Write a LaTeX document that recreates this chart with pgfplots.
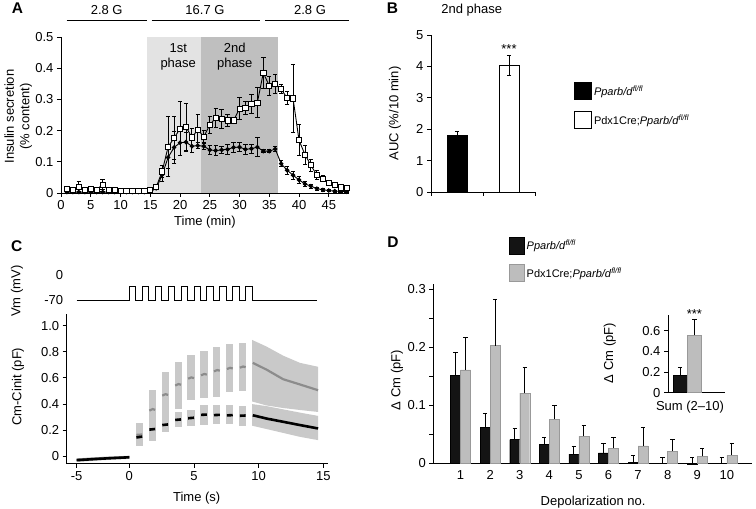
\documentclass[border=0pt]{standalone}
\usepackage{fontspec}
\setmainfont{Liberation Sans}
\usepackage{pgfplots}
\usepackage{pgfplotstable}
\pgfplotsset{compat=1.18}
\definecolor{shadeL}{gray}{0.89}
\definecolor{shadeD}{gray}{0.75}
\definecolor{bandc}{gray}{0.79}
\definecolor{meang}{gray}{0.55}
\definecolor{barg}{gray}{0.74}

\pgfplotsset{
 panel/.style={scale only axis, anchor=south west, axis lines=left, axis line style={-, line width=0.9pt},
   tick align=outside, tick style={black, line width=0.9pt}, major tick length=4pt, minor tick length=4pt,
   /pgf/number format/assume math mode=true, clip=false, font=\fontsize{13}{15.5}\selectfont},
 ebar/.style={/pgfplots/error bars/y dir=#1, /pgfplots/error bars/y explicit,
   /pgfplots/error bars/error bar style={line width=0.9pt, black, solid},
   /pgfplots/error bars/error mark options={rotate=90, mark size=2.2pt, line width=0.9pt, black, solid}},
 ctrafo/.style={x coord trafo/.code={\pgfmathparse{(##1<0)*0.8137*(##1)+(##1>=0)*(##1)}},
   x coord inv trafo/.code={\pgfmathparse{(##1<0)*(##1)/0.8137+(##1>=0)*(##1)}}},
}

% Panel A data: time (min), mean, error
\pgfplotstableread{
t y e
1 0.003 0.002
2 0.003 0.002
3 0.003 0.002
4 0.003 0.003
5 0.003 0.002
6 0.003 0.002
7 0.003 0.003
8 0.003 0.002
9 0.003 0.002
10 0.003 0.002
11 0.003 0.002
12 0.003 0.002
13 0.003 0.002
14 0.003 0.002
15 0.004 0.002
16 0.015 0.004
17 0.058 0.020
18 0.114 0.035
19 0.146 0.050
20 0.161 0.040
21 0.163 0.030
22 0.150 0.020
23 0.152 0.010
24 0.150 0.012
25 0.138 0.015
26 0.136 0.015
27 0.138 0.012
28 0.140 0.015
29 0.146 0.015
30 0.147 0.015
31 0.140 0.015
32 0.142 0.015
33 0.147 0.030
34 0.134 0.005
35 0.134 0.005
36 0.141 0.008
37 0.094 0.010
38 0.073 0.012
39 0.057 0.012
40 0.042 0.010
41 0.029 0.008
42 0.022 0.006
43 0.014 0.005
44 0.010 0.004
45 0.008 0.003
46 0.006 0.003
47 0.005 0.002
48 0.004 0.002
}\tableAci
\pgfplotstableread{
t y e
1 0.014 0.004
2 0.011 0.004
3 0.019 0.018
4 0.011 0.004
5 0.013 0.004
6 0.011 0.005
7 0.027 0.016
8 0.011 0.004
9 0.009 0.003
10 0.007 0.003
11 0.006 0.003
12 0.006 0.002
13 0.006 0.002
14 0.007 0.002
15 0.009 0.003
16 0.019 0.005
17 0.069 0.020
18 0.148 0.096
19 0.176 0.070
20 0.206 0.086
21 0.212 0.076
22 0.178 0.030
23 0.203 0.050
24 0.180 0.020
25 0.219 0.027
26 0.240 0.030
27 0.238 0.030
28 0.233 0.020
29 0.233 0.010
30 0.270 0.035
31 0.272 0.020
32 0.285 0.030
33 0.290 0.047
34 0.385 0.050
35 0.344 0.030
36 0.350 0.030
37 0.333 0.015
38 0.304 0.020
39 0.303 0.110
40 0.169 0.050
41 0.123 0.030
42 0.089 0.020
43 0.057 0.015
44 0.046 0.010
45 0.032 0.006
46 0.025 0.005
47 0.018 0.005
48 0.016 0.004
}\tableAsq
% Panel D data
\pgfplotstableread{
x b be g ge
1 0.152 0.039 0.161 0.056
2 0.062 0.024 0.203 0.079
3 0.041 0.019 0.121 0.045
4 0.033 0.012 0.076 0.023
5 0.016 0.013 0.047 0.019
6 0.018 0.016 0.026 0.019
7 0.002 0.011 0.030 0.032
8 0.000 0.010 0.021 0.020
9 -0.001 0.011 0.012 0.013
10 0.000 0.010 0.014 0.021
}\tableD

\begin{document}
\begin{tikzpicture}[font=\fontsize{13}{15.5}\selectfont]
\useasboundingbox (0pt,0pt) rectangle (756pt,509pt);

% panel letters
\node[font=\fontsize{15.5}{17}\selectfont\bfseries] at (17.5pt,500.5pt) {A};
\node[font=\fontsize{15.5}{17}\selectfont\bfseries] at (392.5pt,500.5pt) {B};
\node[font=\fontsize{15.5}{17}\selectfont\bfseries] at (16.7pt,263pt) {C};
\node[font=\fontsize{15.5}{17}\selectfont\bfseries] at (393pt,266.5pt) {D};

% glucose annotation of panel A
\draw[line width=0.8pt] (66.7pt,489pt) -- (146.7pt,489pt);
\draw[line width=0.8pt] (151.7pt,489pt) -- (260pt,489pt);
\draw[line width=0.8pt] (265pt,489pt) -- (349.3pt,489pt);
\node at (106.7pt,499pt) {2.8 G};
\node at (205pt,499pt) {16.7 G};
\node at (310pt,499pt) {2.8 G};

% ---------------- Panel A
\begin{axis}[panel, at={(61pt,316pt)}, width=288pt, height=156pt,
  xmin=0, xmax=48.4, ymin=0, ymax=0.5, axis on top,
  xtick={0,5,...,45}, ytick={0,0.1,0.2,0.3,0.4,0.5}, yticklabels={0,0.1,0.2,0.3,0.4,0.5},
  xlabel={Time (min)}, ylabel={Insulin secretion\\(\% content)},
  xlabel style={at={(rel axis cs:0.5,-0.186)}, anchor=center},
  ylabel style={align=center, at={(rel axis cs:-0.148,0.49)}, anchor=center}]
\addplot[fill=shadeL, draw=none] coordinates {(14.5,0) (23.5,0) (23.5,0.5) (14.5,0.5)} --cycle;
\addplot[fill=shadeD, draw=none] coordinates {(23.5,0) (36.5,0) (36.5,0.5) (23.5,0.5)} --cycle;
\node[align=center, font=\fontsize{13}{15.5}\selectfont] at (axis cs:19.7,0.437) {1st\\phase};
\node[align=center, font=\fontsize{13}{15.5}\selectfont] at (axis cs:29.2,0.437) {2nd\\phase};
\addplot[black, line width=0.9pt, mark=*, mark size=1.8pt, ebar=both] table[x=t, y=y, y error=e] {\tableAci};
\addplot[black, line width=0.9pt, mark=square*, mark size=2.6pt, mark options={fill=white, draw=black, line width=0.8pt}, ebar=both] table[x=t, y=y, y error=e] {\tableAsq};
\end{axis}

% ---------------- Panel B
\node at (471.7pt,499pt) {2nd phase};
\begin{axis}[panel, at={(431pt,317pt)}, width=104pt, height=157pt,
  xmin=0, xmax=2, ymin=0, ymax=5, ybar, bar width=0.385,
  xtick={0,1,2}, xticklabels={}, ytick={0,1,2,3,4,5},
  ylabel={AUC (\%/10 min)},
  ylabel style={at={(rel axis cs:-0.346,0.5)}, anchor=center},
  legend style={at={(rel axis cs:1.375,0.70)}, anchor=north west, draw=none, fill=none,
    inner sep=0pt, row sep=11pt, font=\fontsize{11}{13}\selectfont,
    /tikz/every even column/.append style={column sep=5pt}},
  legend cell align=left]
\addplot[bar shift=0pt, fill=black, draw=black, line width=0.8pt,
  legend image code/.code={\draw[fill=black, draw=black, line width=0.8pt] (0pt,-8.5pt) rectangle (17pt,8.5pt);},
  ebar=both] coordinates {(0.5,1.8) +- (0,0.12)};
\addlegendentry{\textit{Pparb/d}\textsuperscript{\textit{fl/fl}}}
\addplot[bar shift=0pt, fill=white, draw=black, line width=0.8pt,
  legend image code/.code={\draw[fill=white, draw=black, line width=0.8pt] (0pt,-8.5pt) rectangle (17pt,8.5pt);},
  ebar=both] coordinates {(1.5,4.02) +- (0,0.32)};
\addlegendentry{Pdx1Cre;\textit{Pparb/d}\textsuperscript{\textit{fl/fl}}}
\node[anchor=south, inner sep=1pt] at (axis cs:1.5,4.36) {***};
\end{axis}

% ---------------- Panel C, voltage protocol
\begin{axis}[panel, ctrafo, at={(66.7pt,207pt)}, width=261.6pt, height=18pt,
  xmin=-5.95, xmax=15.39, ymin=-80, ymax=10,
  axis line style={draw=none}, major tick length=0pt, xtick=\empty,
  ytick={-70}, yticklabels={-70}, extra y ticks={0}, extra y tick labels={0},
  extra y tick style={yticklabel style={yshift=11pt}},
  ylabel={Vm (mV)}, ylabel style={at={(rel axis cs:-0.19,0.6)}, anchor=center}]
\addplot[black, line width=0.9pt] coordinates {
(-5,-70) (0,-70) (0,0) (0.5,0) (0.5,-70) (1,-70) (1,0) (1.5,0) (1.5,-70) (2,-70) (2,0) (2.5,0) (2.5,-70)
(3,-70) (3,0) (3.5,0) (3.5,-70) (4,-70) (4,0) (4.5,0) (4.5,-70) (5,-70) (5,0) (5.5,0) (5.5,-70)
(6,-70) (6,0) (6.5,0) (6.5,-70) (7,-70) (7,0) (7.5,0) (7.5,-70) (8,-70) (8,0) (8.5,0) (8.5,-70)
(9,-70) (9,0) (9.5,0) (9.5,-70) (14.5,-70)};
\end{axis}

% ---------------- Panel C, capacitance
\begin{axis}[panel, ctrafo, at={(66.7pt,45.3pt)}, width=261.6pt, height=149.3pt,
  xmin=-5.95, xmax=15.39, ymin=-0.055, ymax=1.085,
  xtick={-5,0,5,10,15}, xticklabels={-5,0,5,10,15},
  ytick={0,0.2,0.4,0.6,0.8,1}, yticklabels={0,0.2,0.4,0.6,0.8,1.0},
  xlabel={Time (s)}, ylabel={Cm-Cinit (pF)},
  xlabel style={at={(rel axis cs:0.497,-0.232)}, anchor=center},
  ylabel style={at={(rel axis cs:-0.186,0.516)}, anchor=center}]
% baseline band
\addplot[fill=bandc, draw=none] coordinates {(-5,-0.042) (-2.5,-0.028) (0,-0.018) (0,0.006) (-2.5,-0.003) (-5,-0.014)} --cycle;
% Pdx1Cre bands (mean +- SEM)
\addplot[fill=bandc, draw=none] coordinates {(0.5,0.08) (1.05,0.08) (1.05,0.255) (0.5,0.255)} --cycle;
\addplot[fill=bandc, draw=none] coordinates {(1.5,0.21) (2.05,0.21) (2.05,0.505) (1.5,0.505)} --cycle;
\addplot[fill=bandc, draw=none] coordinates {(2.5,0.30) (3.05,0.30) (3.05,0.645) (2.5,0.645)} --cycle;
\addplot[fill=bandc, draw=none] coordinates {(3.5,0.36) (4.05,0.36) (4.05,0.725) (3.5,0.725)} --cycle;
\addplot[fill=bandc, draw=none] coordinates {(4.5,0.435) (5.05,0.435) (5.05,0.775) (4.5,0.775)} --cycle;
\addplot[fill=bandc, draw=none] coordinates {(5.5,0.448) (6.05,0.448) (6.05,0.806) (5.5,0.806)} --cycle;
\addplot[fill=bandc, draw=none] coordinates {(6.5,0.455) (7.05,0.455) (7.05,0.839) (6.5,0.839)} --cycle;
\addplot[fill=bandc, draw=none] coordinates {(7.5,0.49) (8.05,0.49) (8.05,0.862) (7.5,0.862)} --cycle;
\addplot[fill=bandc, draw=none] coordinates {(8.5,0.50) (9.05,0.50) (9.05,0.87) (8.5,0.87)} --cycle;
\addplot[fill=bandc, draw=none] coordinates {(9.5,0.89) (10.6,0.84) (11.9,0.77) (13.2,0.715) (14.6,0.685)
   (14.6,0.34) (13.2,0.355) (11.9,0.37) (10.6,0.39) (9.5,0.42)} --cycle;
% Pparb bands
\addplot[fill=bandc, draw=none] coordinates {(0.5,0.10) (1.05,0.10) (1.05,0.20) (0.5,0.20)} --cycle;
\addplot[fill=bandc, draw=none] coordinates {(1.5,0.12) (2.05,0.12) (2.05,0.29) (1.5,0.29)} --cycle;
\addplot[fill=bandc, draw=none] coordinates {(2.5,0.184) (3.05,0.184) (3.05,0.30) (2.5,0.30)} --cycle;
\addplot[fill=bandc, draw=none] coordinates {(3.5,0.225) (4.05,0.225) (4.05,0.34) (3.5,0.34)} --cycle;
\addplot[fill=bandc, draw=none] coordinates {(4.5,0.23) (5.05,0.23) (5.05,0.358) (4.5,0.358)} --cycle;
\addplot[fill=bandc, draw=none] coordinates {(5.5,0.243) (6.05,0.243) (6.05,0.396) (5.5,0.396)} --cycle;
\addplot[fill=bandc, draw=none] coordinates {(6.5,0.248) (7.05,0.248) (7.05,0.39) (6.5,0.39)} --cycle;
\addplot[fill=bandc, draw=none] coordinates {(7.5,0.245) (8.05,0.245) (8.05,0.39) (7.5,0.39)} --cycle;
\addplot[fill=bandc, draw=none] coordinates {(8.5,0.23) (9.05,0.23) (9.05,0.384) (8.5,0.384)} --cycle;
\addplot[fill=bandc, draw=none] coordinates {(9.5,0.40) (10.6,0.385) (11.9,0.36) (13.2,0.335) (14.6,0.31)
   (14.6,0.125) (13.2,0.15) (11.9,0.18) (10.6,0.21) (9.5,0.235)} --cycle;
% Pdx1Cre means
\addplot[meang, line width=2.2pt] coordinates {(0.55,0.165) (1.0,0.168)};
\addplot[meang, line width=2.2pt] coordinates {(1.55,0.35) (1.8,0.362) (2.0,0.356)};
\addplot[meang, line width=2.2pt] coordinates {(2.55,0.465) (2.8,0.476) (3.0,0.47)};
\addplot[meang, line width=2.2pt] coordinates {(3.55,0.542) (3.8,0.553) (4.0,0.548)};
\addplot[meang, line width=2.2pt] coordinates {(4.55,0.594) (4.8,0.604) (5.0,0.598)};
\addplot[meang, line width=2.2pt] coordinates {(5.55,0.62) (5.8,0.63) (6.0,0.625)};
\addplot[meang, line width=2.2pt] coordinates {(6.55,0.65) (6.8,0.66) (7.0,0.655)};
\addplot[meang, line width=2.2pt] coordinates {(7.55,0.668) (7.8,0.677) (8.0,0.672)};
\addplot[meang, line width=2.2pt] coordinates {(8.55,0.678) (8.8,0.687) (9.0,0.682)};
\addplot[meang, line width=2.2pt] coordinates {(9.55,0.715) (10.6,0.664) (11.9,0.59) (13.2,0.55) (14.6,0.506)};
% baseline means
\addplot[meang, line width=2.2pt] coordinates {(-5,-0.024) (-2.5,-0.012) (0,-0.004)};
\addplot[black, line width=2.6pt] coordinates {(-5,-0.028) (-2.5,-0.016) (0,-0.006)};
% Pparb means
\addplot[black, line width=2.6pt] coordinates {(0.55,0.145) (1.0,0.152)};
\addplot[black, line width=2.6pt] coordinates {(1.55,0.205) (2.0,0.21)};
\addplot[black, line width=2.6pt] coordinates {(2.55,0.24) (3.0,0.245)};
\addplot[black, line width=2.6pt] coordinates {(3.55,0.279) (4.0,0.283)};
\addplot[black, line width=2.6pt] coordinates {(4.55,0.292) (5.0,0.296)};
\addplot[black, line width=2.6pt] coordinates {(5.55,0.318) (6.0,0.32)};
\addplot[black, line width=2.6pt] coordinates {(6.55,0.316) (7.0,0.318)};
\addplot[black, line width=2.6pt] coordinates {(7.55,0.314) (8.0,0.316)};
\addplot[black, line width=2.6pt] coordinates {(8.55,0.311) (9.0,0.313)};
\addplot[black, line width=2.6pt] coordinates {(9.55,0.315) (10.6,0.29) (11.9,0.265) (13.2,0.24) (14.6,0.214)};
\end{axis}

% ---------------- Panel D
\begin{axis}[panel, at={(433.3pt,45.7pt)}, width=318.4pt, height=179.8pt,
  xmin=0.08, xmax=10.84, ymin=0, ymax=0.31, ybar, bar width=0.338,
  xtick={1,...,10}, x tick style={draw=none},
  ytick={0,0.1,0.2,0.3}, yticklabels={0,0.1,0.2,0.3}, minor ytick={0.05,0.15,0.25},
  xlabel={Depolarization no.}, ylabel={Δ Cm (pF)},
  xlabel style={at={(rel axis cs:0.502,-0.214)}, anchor=center},
  ylabel style={at={(rel axis cs:-0.114,0.463)}, anchor=center},
  legend style={at={(rel axis cs:0.238,1.26)}, anchor=north west, draw=none, fill=none,
    inner sep=0pt, row sep=10pt, font=\fontsize{11}{13}\selectfont,
    /tikz/every even column/.append style={column sep=4pt}},
  legend cell align=left]
\addplot[bar shift=-0.169, fill=black!92, draw=black,
  legend image code/.code={\draw[fill=black!92, draw=black] (0pt,-8.5pt) rectangle (15pt,8.5pt);},
  ebar=plus] table[x=x, y=b, y error=be] {\tableD};
\addlegendentry{\textit{Pparb/d}\textsuperscript{\textit{fl/fl}}}
\addplot[bar shift=0.169, fill=barg, draw=gray!80,
  legend image code/.code={\draw[fill=barg, draw=gray!80] (0pt,-8.5pt) rectangle (15pt,8.5pt);},
  ebar=plus] table[x=x, y=g, y error=ge] {\tableD};
\addlegendentry{Pdx1Cre;\textit{Pparb/d}\textsuperscript{\textit{fl/fl}}}
\end{axis}

% ---------------- Panel D inset
\begin{axis}[panel, at={(668pt,116.3pt)}, width=57pt, height=77.7pt,
  xmin=0, xmax=4, ymin=0, ymax=0.752, ybar, bar width=1,
  xtick=\empty, ytick={0,0.2,0.4,0.6}, yticklabels={0,0.2,0.4,0.6},
  xlabel={Sum (2–10)}, ylabel={Δ Cm (pF)},
  xlabel style={at={(rel axis cs:0.386,-0.18)}, anchor=center},
  ylabel style={at={(rel axis cs:-1.02,0.51)}, anchor=center}]
\addplot[bar shift=0pt, fill=black!92, draw=black, ebar=plus] coordinates {(0.85,0.168) +- (0,0.08)};
\addplot[bar shift=0pt, fill=barg, draw=gray!80, ebar=plus] coordinates {(1.85,0.558) +- (0,0.15)};
\node[anchor=south, inner sep=1pt] at (axis cs:1.85,0.705) {***};
\end{axis}
\end{tikzpicture}
\end{document}
